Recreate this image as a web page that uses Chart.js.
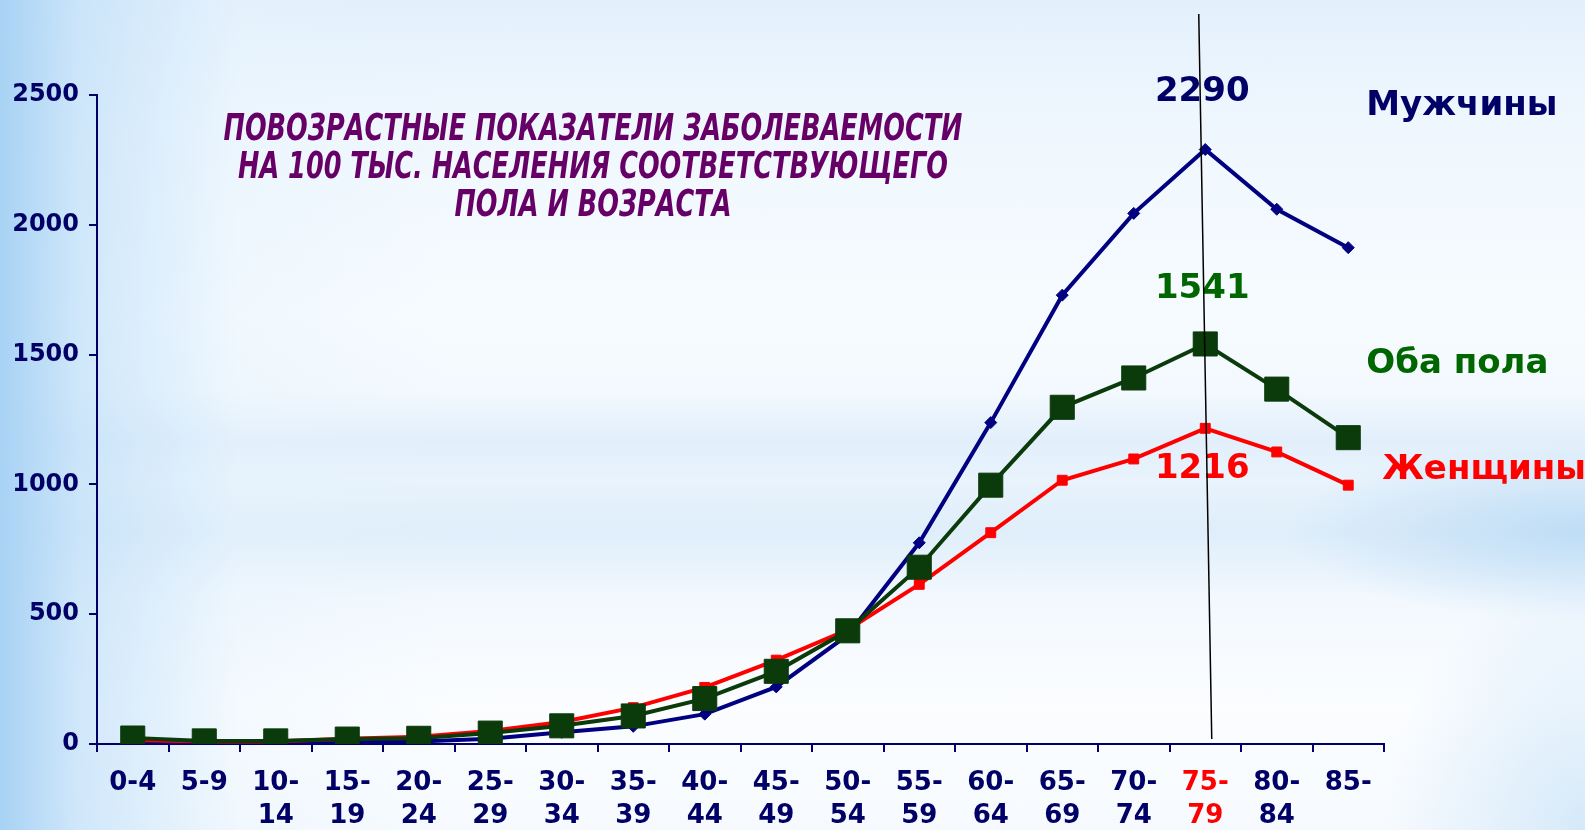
<!DOCTYPE html>
<html>
<head>
<meta charset="utf-8">
<script src="https://cdn.jsdelivr.net/npm/chart.js@4"></script>
<style>
  html, body { margin: 0; padding: 0; }
  body {
    width: 1585px; height: 830px; overflow: hidden;
    background:
      radial-gradient(ellipse 300px 90px at 100% 64%, rgba(185,218,245,0.85), rgba(185,218,245,0) 100%),
      radial-gradient(ellipse 200px 260px at 100% 100%, rgba(200,226,247,0.7), rgba(200,226,247,0) 100%),
      linear-gradient(to right, rgba(168,210,244,1) 0%, rgba(195,225,249,0.75) 5%, rgba(230,243,253,0.35) 15%, rgba(255,255,255,0) 28%),
      linear-gradient(to bottom, #e3f0fc 0%, #eff7fe 15%, #f6fbff 38%, #f3f9fe 47%, #e2effb 53%, #e8f3fc 58%, #dfeefa 64%, #f2f8fe 72%, #fbfdff 85%, #f6fafe 100%);
  }
  #wrap { position: relative; width: 1585px; height: 830px; }
</style>
</head>
<body>
<div id="wrap"><canvas id="chart" width="1585" height="830"></canvas></div>
<script>
// data
const ageGroups = [["0-4"], ["5-9"], ["10-", "14"], ["15-", "19"], ["20-", "24"], ["25-", "29"],
  ["30-", "34"], ["35-", "39"], ["40-", "44"], ["45-", "49"], ["50-", "54"], ["55-", "59"],
  ["60-", "64"], ["65-", "69"], ["70-", "74"], ["75-", "79"], ["80-", "84"], ["85-"]];
const men = [10, 3, 4, 8, 10, 20, 45, 68, 115, 220, 420, 775, 1238, 1729, 2044, 2290, 2060, 1912];
const both = [23, 12, 12, 19, 22, 42, 70, 108, 175, 280, 436, 681, 997, 1297, 1410, 1541, 1367, 1180];
const women = [15, 10, 10, 20, 28, 50, 85, 140, 218, 323, 440, 615, 814, 1016, 1098, 1216, 1125, 997];
const yTicks = [0, 500, 1000, 1500, 2000, 2500];
const peakIndex = 15;

const navy = "#000066";
const green = "#0b3a0b";
const red = "#ff0000";

const titleLines = ["ПОВОЗРАСТНЫЕ ПОКАЗАТЕЛИ ЗАБОЛЕВАЕМОСТИ",
  "НА 100 ТЫС. НАСЕЛЕНИЯ СООТВЕТСТВУЮЩЕГО", "ПОЛА И ВОЗРАСТА"];

// text on top of the chart
const notes = {
  id: "notes",
  afterDatasetsDraw(chart) {
    const ctx = chart.ctx;
    const xs = chart.scales.x;
    const ys = chart.scales.y;
    const px = xs.getPixelForValue(peakIndex);
    const last = xs.getPixelForValue(ageGroups.length - 1);

    ctx.save();
    ctx.textBaseline = "middle";

    // title
    ctx.fillStyle = "#660066";
    ctx.font = "italic bold 37px 'Liberation Sans Narrow', 'DejaVu Sans Condensed', 'Liberation Sans', sans-serif";
    const k = 739 / ctx.measureText(titleLines[0]).width;
    titleLines.forEach((t, i) => {
      ctx.save();
      ctx.translate(593, 130 + i * 38);
      ctx.scale(k, 1);
      ctx.textAlign = "center";
      ctx.fillText(t, 0, 0);
      ctx.restore();
    });

    // peak values
    ctx.font = "bold 34px 'DejaVu Sans', Verdana, sans-serif";
    ctx.textAlign = "center";
    ctx.fillStyle = navy;
    ctx.fillText(String(men[peakIndex]), px - 3, ys.getPixelForValue(men[peakIndex]) - 57);
    ctx.fillStyle = "#006600";
    ctx.fillText(String(both[peakIndex]), px - 3, ys.getPixelForValue(both[peakIndex]) - 55);
    ctx.fillStyle = red;
    ctx.fillText(String(women[peakIndex]), px - 3, ys.getPixelForValue(women[peakIndex]) + 41);

    // series names
    ctx.textAlign = "left";
    ctx.fillStyle = navy;
    ctx.fillText("Мужчины", last + 18, ys.getPixelForValue(2458));
    ctx.fillStyle = "#006600";
    ctx.fillText("Оба пола", last + 18, ys.getPixelForValue(1463));
    ctx.fillStyle = red;
    ctx.fillText("Женщины", last + 34, ys.getPixelForValue(1055));

    // thin marker line through 75-79
    ctx.strokeStyle = "#000000";
    ctx.lineWidth = 1.5;
    ctx.beginPath();
    ctx.moveTo(px - 6.5, 14);
    ctx.lineTo(px + 6.5, chart.chartArea.bottom - 5);
    ctx.stroke();
    ctx.restore();
  }
};

new Chart(document.getElementById("chart"), {
  type: "line",
  data: {
    labels: ageGroups,
    datasets: [
      {
        label: "Оба пола",
        data: both,
        borderColor: green,
        backgroundColor: green,
        borderWidth: 4,
        pointStyle: "rect",
        pointRadius: 17,
        pointBorderWidth: 1,
      },
      {
        label: "Женщины",
        data: women,
        borderColor: red,
        backgroundColor: red,
        borderWidth: 4,
        pointStyle: "rect",
        pointRadius: 7,
        pointBorderWidth: 1,
      },
      {
        label: "Мужчины",
        data: men,
        borderColor: "#000080",
        backgroundColor: "#000080",
        borderWidth: 4,
        pointStyle: "rectRot",
        pointRadius: 6,
        pointBorderWidth: 1,
      },
    ],
  },
  options: {
    responsive: false,
    animation: false,
    layout: { padding: { top: 95, right: 201, left: 0, bottom: 0 } },
    plugins: {
      legend: { display: false },
      tooltip: { enabled: false },
    },
    scales: {
      x: {
        offset: true,
        afterFit: (s) => { s.height = 86; },
        border: { color: navy, width: 2 },
        grid: {
          offset: true,
          drawOnChartArea: false,
          tickLength: 8,
          color: navy,
          lineWidth: 2,
        },
        ticks: {
          autoSkip: false,
          maxRotation: 0,
          padding: 14,
          color: (c) => (c.index === peakIndex ? red : navy),
          font: { family: "'DejaVu Sans', Verdana, sans-serif", size: 26, weight: "bold", lineHeight: 1.3 },
        },
      },
      y: {
        min: 0,
        max: 2500,
        afterFit: (s) => { s.width = 97; },
        afterBuildTicks: (s) => { s.ticks = yTicks.map((v) => ({ value: v })); },
        border: { color: navy, width: 2 },
        grid: {
          drawOnChartArea: false,
          tickLength: 8,
          color: navy,
          lineWidth: 2,
        },
        ticks: {
          padding: 10,
          color: navy,
          callback: (v) => String(v),
          font: { family: "'DejaVu Sans', Verdana, sans-serif", size: 24, weight: "bold" },
        },
      },
    },
  },
  plugins: [notes],
});
</script>
</body>
</html>
